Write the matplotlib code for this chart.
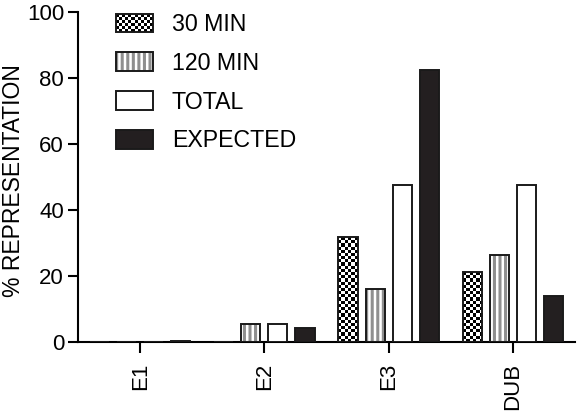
import numpy as np
import matplotlib
matplotlib.use("Agg")
import matplotlib.pyplot as plt
from matplotlib.patches import Rectangle
from matplotlib.legend_handler import HandlerBase, HandlerTuple

plt.rcParams['font.family'] = ['Liberation Sans', 'DejaVu Sans']
plt.rcParams['hatch.linewidth'] = 1.8

# data
groups = ['E1', 'E2', 'E3', 'DUB']
series = ['30 MIN', '120 MIN', 'TOTAL', 'EXPECTED']
min30 = [0, 0, 31.7, 21.2]
min120 = [0, 5.5, 16.0, 26.4]
total = [0, 5.5, 47.6, 47.6]
expected = [0.4, 4.1, 82.3, 13.9]

EDGE = '#1a1a1a'
LW = 1.4
CELL_PX = 3.2
FS = 16

fig = plt.figure(figsize=(5.79, 4.15), dpi=100)
ax = fig.add_axes([78 / 579, 73 / 415, 497 / 579, 330 / 415])

x = np.arange(len(groups))
width = 0.153
step = 0.218
offsets = [-1.5 * step, -0.5 * step, 0.5 * step, 1.5 * step]

ax.set_xlim(-0.5, 3.5)
ax.set_ylim(0, 100)


def checker(nx, ny):
    ii, jj = np.meshgrid(np.arange(nx), np.arange(ny))
    return ((ii + jj) % 2).astype(float)


# 30 MIN: checkerboard fill
b30 = ax.bar(x + offsets[0], min30, width, facecolor='white', edgecolor='none', zorder=2)
for p in b30:
    h = p.get_height()
    if h <= 0:
        continue
    x0 = p.get_x()
    w = p.get_width()
    (px0, py0), (px1, py1) = ax.transData.transform([(x0, 0), (x0 + w, h)])
    nx = max(1, int(round((px1 - px0) / CELL_PX)))
    ny = max(1, int(round((py1 - py0) / CELL_PX)))
    im = ax.imshow(checker(nx, ny), cmap='gray_r', vmin=0, vmax=1,
                   extent=(x0, x0 + w, 0, h), origin='lower',
                   interpolation='nearest', aspect='auto', zorder=2.5)
    im.set_clip_path(p)
ax.bar(x + offsets[0], min30, width, fill=False, edgecolor=EDGE, linewidth=LW, zorder=3)

# 120 MIN: grey with white vertical stripes
s120 = ax.bar(x + offsets[1], min120, width, facecolor='#8f8f8f', edgecolor='white',
              hatch='|||', linewidth=0, zorder=2)
o120 = ax.bar(x + offsets[1], min120, width, fill=False, edgecolor=EDGE, linewidth=LW, zorder=3)

# TOTAL and EXPECTED
btot = ax.bar(x + offsets[2], total, width, facecolor='white', edgecolor=EDGE, linewidth=LW, zorder=3)
bexp = ax.bar(x + offsets[3], expected, width, facecolor='#231f20', edgecolor=EDGE, linewidth=LW, zorder=3)

ax.set_xlim(-0.5, 3.5)
ax.set_ylim(0, 100)


class CheckerHandler(HandlerBase):
    def create_artists(self, legend, orig_handle, xdescent, ydescent, width, height, fontsize, trans):
        cell = CELL_PX * 0.72
        nx = max(1, int(round(width / cell)))
        ny = max(1, int(round(height / cell)))
        cw, ch = width / nx, height / ny
        arts = [Rectangle((-xdescent, -ydescent), width, height, facecolor='white',
                          edgecolor='none', transform=trans)]
        for i in range(nx):
            for j in range(ny):
                if (i + j) % 2:
                    arts.append(Rectangle((-xdescent + i * cw, -ydescent + j * ch), cw, ch,
                                          facecolor='black', edgecolor='none', transform=trans))
        arts.append(Rectangle((-xdescent, -ydescent), width, height, fill=False,
                              edgecolor=EDGE, linewidth=LW, transform=trans))
        return arts


h30 = Rectangle((0, 0), 1, 1)
ax.legend([h30, (s120[0], o120[0]), btot[0], bexp[0]], series,
          handler_map={h30: CheckerHandler(), tuple: HandlerTuple(ndivide=1, pad=0)},
          loc='upper left', bbox_to_anchor=(116 / 579, 1 - 13 / 415),
          bbox_transform=fig.transFigure, frameon=False, fontsize=FS + 0.7,
          borderpad=0, borderaxespad=0, handlelength=1.6, handleheight=0.85,
          handletextpad=0.8, labelspacing=0.68)

ax.spines['top'].set_visible(False)
ax.spines['right'].set_visible(False)
ax.spines['left'].set_linewidth(1.5)
ax.spines['bottom'].set_linewidth(1.5)

ax.set_yticks([0, 20, 40, 60, 80, 100])
ax.set_xticks(x)
ax.set_xticklabels(groups, rotation=90)
ax.tick_params(axis='y', length=7, width=1.5, pad=3, labelsize=FS)
ax.tick_params(axis='x', length=8, width=1.5, pad=7, labelsize=FS)
ax.set_ylabel('% REPRESENTATION', fontsize=FS + 0.5)
ax.yaxis.set_label_coords(-0.107, 0.488)

fig.savefig('out.png', dpi=100)
